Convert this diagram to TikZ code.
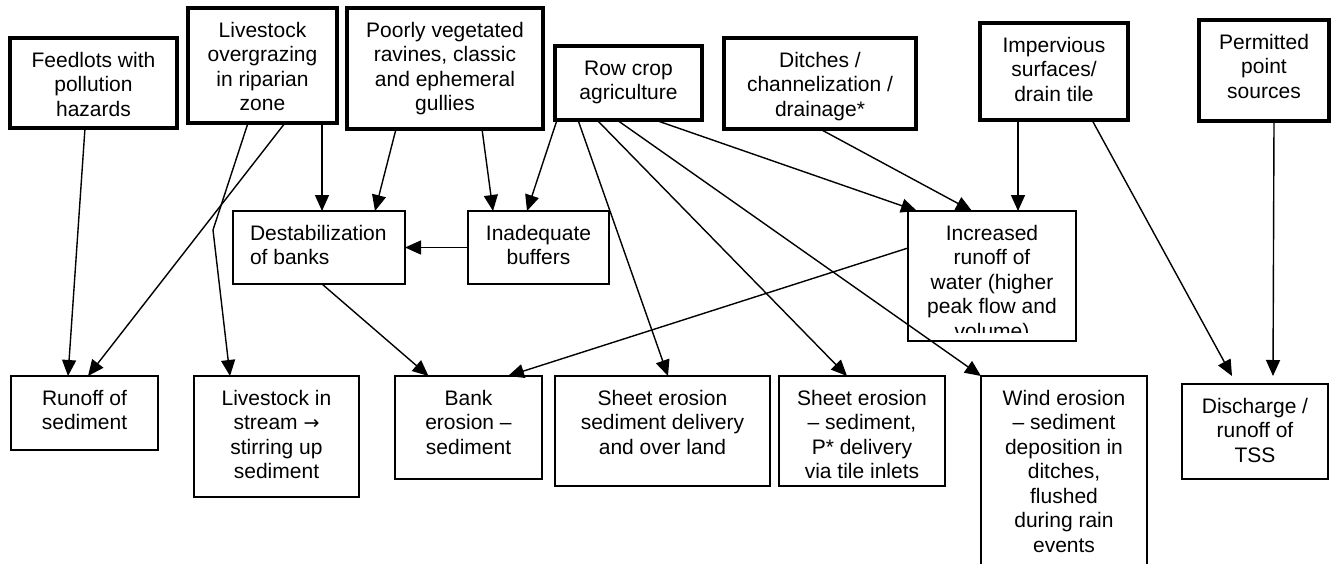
\documentclass[tikz,border=0pt]{standalone}
\usepackage{fontspec}
\setmainfont{Liberation Sans}
\newfontfamily\symfont{DejaVu Sans}
\usetikzlibrary{arrows.meta}
\newcommand{\boxtxt}[4][\centering]{\parbox[c][#3][t]{#2}{#1\vspace*{12pt}\strut#4}}

\begin{document}
\begin{tikzpicture}[x=1pt,y=-1pt,
  every node/.style={anchor=north west,inner sep=0pt,outer sep=0pt,font=\fontsize{21}{24.5}\selectfont},
  src/.style={draw,line width=3.2pt},
  fx/.style={draw,line width=1.3pt},
  link/.style={line width=1.4pt,-{Triangle[length=16pt,width=14pt]}}]
  \useasboundingbox (0,0) rectangle (1331,563);
  \clip (0,0) rectangle (1331,563);
  % causes
  \path (10,38) node[src] (t1) {\boxtxt{167pt}{90pt}{Feedlots with\\pollution\\hazards}}
  (188,8) node[src] (t2) {\boxtxt{149pt}{115pt}{Livestock\\overgrazing\\in riparian\\zone}}
  (347,8) node[src] (t3) {\boxtxt{196pt}{121pt}{Poorly vegetated\\ravines, classic\\and ephemeral\\gullies}}
  (555,46) node[src] (t4) {\boxtxt{147pt}{74pt}{Row crop\\agriculture}}
  (724,38) node[src] (t5) {\boxtxt{192pt}{91pt}{Ditches /\\channelization /\\drainage*}}
  (980,23) node[src] (t6) {\boxtxt{148pt}{97pt}{Impervious\\surfaces/\\drain tile}}
  (1199,20) node[src] (t7) {\boxtxt{130pt}{101pt}{Permitted\\point\\sources}};
  % intermediate
  \path (233,211) node[fx] (m1) {\boxtxt[\raggedright\leftskip=17pt]{172pt}{73pt}{Destabilization\\of banks}}
  (468,211) node[fx] (m2) {\boxtxt{141pt}{73pt}{Inadequate\\buffers}};
  \begin{scope}
    \clip (900,200) rectangle (1090,332);
    \node (m3) at (908,211) {\boxtxt{168pt}{130pt}{Increased\\runoff of\\water (higher\\peak flow and\\volume)}};
  \end{scope}
  \draw[line width=1.3pt] (m3.north west) rectangle (m3.south east);
  % effects
  \path (11,376) node[fx] (b1) {\boxtxt{147pt}{74pt}{Runoff of\\sediment}}
  (194,376) node[fx] (b2) {\boxtxt{165pt}{121pt}{Livestock in\\stream {\symfont\fontsize{19}{24.5}\selectfont →}\\stirring up\\sediment}}
  (395,376) node[fx] (b3) {\boxtxt{147pt}{103pt}{Bank\\erosion –\\sediment}}
  (555,376) node[fx] (b4) {\boxtxt{215pt}{110pt}{Sheet erosion\\sediment delivery\\and over land}}
  (779,376) node[fx] (b5) {\boxtxt{166pt}{110pt}{Sheet erosion\\– sediment,\\P* delivery\\via tile inlets}}
  (981,376) node[fx] (b6) {\boxtxt{166pt}{210pt}{Wind erosion\\– sediment\\deposition in\\ditches,\\flushed\\during rain\\events}}
  (1182,384) node[fx] (b7) {\boxtxt{146pt}{95pt}{Discharge /\\runoff of\\TSS}};
  % arrows
  \draw[link] ([xshift=-8.5pt]t1.south) -- ([xshift=-16.5pt]b1.north);
  \draw[link] ([xshift=22.5pt]t2.south) -- ([xshift=3.5pt]b1.north);
  \draw[link] ([xshift=-14.5pt]t2.south) -- (213,230) -- ([xshift=-46.5pt]b2.north);
  \draw[link] ([xshift=59.5pt]t2.south) -- ([xshift=3pt]m1.north);
  \draw[link] ([xshift=-49pt]t3.south) -- ([xshift=56pt]m1.north);
  \draw[link] ([xshift=37pt]t3.south) -- ([xshift=-45.5pt]m2.north);
  \draw[link] ([xshift=2pt]t4.south west) -- ([xshift=-11.5pt]m2.north);
  \draw[link] (m2.west) -- (m1.east);
  \draw[link] ([xshift=-50.5pt]t4.south) -- ([xshift=5.5pt]b4.north);
  \draw[link] ([xshift=-31.5pt]t4.south) -- ([xshift=-15pt]b5.north);
  \draw[link] ([xshift=-11.5pt]t4.south) -- (b6.north west);
  \draw[link] ([xshift=26.5pt]t4.south) -- ([xshift=-75pt]m3.north);
  \draw[link] (t5.south) -- ([xshift=-20pt]m3.north);
  \draw[link] ([xshift=-36pt]t6.south) -- ([xshift=26pt]m3.north);
  \draw[link] ([xshift=38pt]t6.south) -- ([xshift=-23pt,yshift=8pt]b7.north);
  \draw[link] ([xshift=10pt]t7.south) -- ([xshift=18pt,yshift=8pt]b7.north);
  \draw[link] ([xshift=3pt]m1.south) -- ([xshift=-40pt]b3.north);
  \draw[link] ([yshift=28pt]m3.west) -- ([xshift=39.5pt]b3.north);
\end{tikzpicture}
\end{document}
